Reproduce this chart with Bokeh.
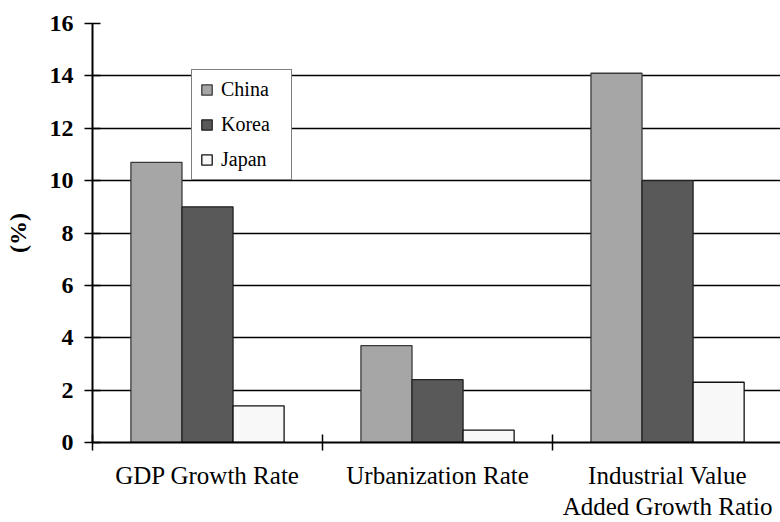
from bokeh.plotting import figure
from bokeh.models import ColumnDataSource, FixedTicker, Range1d, Legend, LegendItem
from bokeh.transform import dodge
from bokeh.embed import file_html
from bokeh.resources import INLINE

categories = ["GDP Growth Rate", "Urbanization Rate", "Industrial Value\nAdded Growth Ratio"]
china = [10.7, 3.7, 14.1]
korea = [9.0, 2.4, 10.0]
japan = [1.4, 0.47, 2.3]
y_ticks = [0, 2, 4, 6, 8, 10, 12, 14, 16]
y_title = "(%)"

centers = [i + 0.5 for i in range(len(categories))]
bounds = list(range(len(categories) + 1))

src = ColumnDataSource(dict(x=centers, china=china, korea=korea, japan=japan))

FONT = "'Liberation Serif', serif"

p = figure(width=780, height=522, output_backend="svg", toolbar_location=None,
           x_range=Range1d(0, 2.991), y_range=Range1d(0, 16),
           min_border_left=92, min_border_right=0, min_border_top=23, min_border_bottom=79)
p.outline_line_color = None
p.background_fill_color = "white"
p.border_fill_color = "white"

bw = 0.222
r1 = p.vbar(x=dodge("x", -bw, range=p.x_range), top="china", width=bw, source=src,
            fill_color="#a6a6a6", line_color="#3a3a3a", line_width=1.3)
r2 = p.vbar(x="x", top="korea", width=bw, source=src,
            fill_color="#595959", line_color="#222222", line_width=1.3)
r3 = p.vbar(x=dodge("x", bw, range=p.x_range), top="japan", width=bw, source=src,
            fill_color="#f8f8f8", line_color="#111111", line_width=1.3)

# x axis
xa = p.xaxis[0]
xa.ticker = FixedTicker(ticks=centers, minor_ticks=bounds)
xa.major_label_overrides = {float(c): lab for c, lab in zip(centers, categories)}
xa.major_tick_in = 0
xa.major_tick_out = 0
xa.minor_tick_in = 8
xa.minor_tick_out = 8
xa.minor_tick_line_color = "black"
xa.minor_tick_line_width = 1.5
xa.axis_line_color = "black"
xa.axis_line_width = 2
xa.major_label_text_font = FONT
xa.major_label_text_font_size = "25px"
xa.major_label_text_line_height = 1.16
xa.major_label_text_color = "black"
xa.major_label_standoff = 11

# y axis
ya = p.yaxis[0]
ya.ticker = FixedTicker(ticks=y_ticks)
ya.minor_tick_line_color = None
ya.major_tick_in = 8
ya.major_tick_out = 8
ya.major_tick_line_color = "black"
ya.major_tick_line_width = 1.5
ya.axis_line_color = "black"
ya.axis_line_width = 2
ya.major_label_text_font = FONT
ya.major_label_text_font_size = "24px"
ya.major_label_text_font_style = "bold"
ya.major_label_text_color = "black"
ya.major_label_standoff = 11
ya.axis_label = y_title
ya.axis_label_text_font = FONT
ya.axis_label_text_font_size = "24px"
ya.axis_label_text_font_style = "bold"
ya.axis_label_text_color = "black"
ya.axis_label_standoff = 16

p.xgrid.grid_line_color = None
p.ygrid.ticker = FixedTicker(ticks=y_ticks)
p.ygrid.grid_line_color = "black"
p.ygrid.grid_line_width = 1.5

legend = Legend(items=[LegendItem(label="China", renderers=[r1]),
                       LegendItem(label="Korea", renderers=[r2]),
                       LegendItem(label="Japan", renderers=[r3])],
                location=(99, 262))
legend.label_text_font = FONT
legend.label_text_font_size = "20px"
legend.label_text_color = "black"
legend.glyph_width = 13
legend.glyph_height = 13
legend.label_width = 62
legend.label_standoff = 8
legend.padding = 8
legend.spacing = 12
legend.margin = 0
legend.border_line_color = "black"
legend.border_line_width = 1
legend.background_fill_color = "white"
legend.background_fill_alpha = 1
p.add_layout(legend)

open("out.html", "w").write(file_html(p, INLINE))
